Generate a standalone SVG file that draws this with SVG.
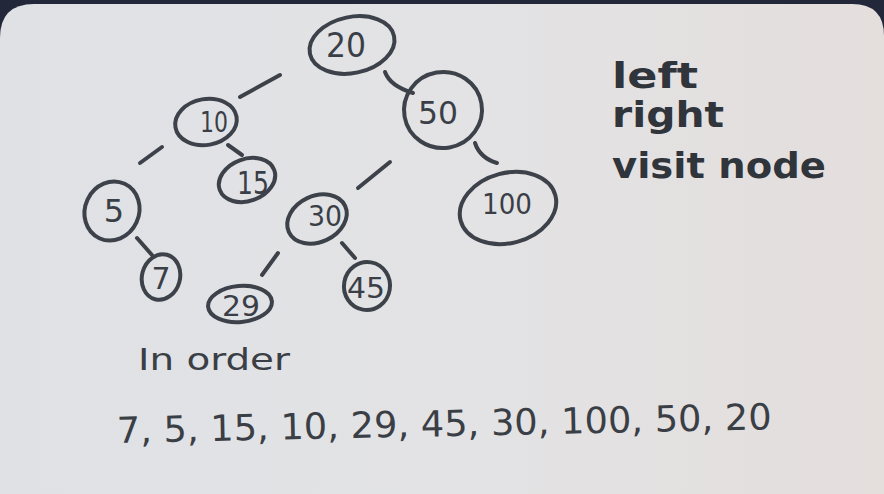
<svg xmlns="http://www.w3.org/2000/svg" width="884" height="494" viewBox="0 0 884 494">
  <defs>
    <linearGradient id="board" x1="0" y1="0" x2="1" y2="0">
      <stop offset="0" stop-color="#dfe1e5"/>
      <stop offset="0.5" stop-color="#e3e3e5"/>
      <stop offset="1" stop-color="#e4dedd"/>
    </linearGradient>
    <style>
      .ring { fill: none; stroke: #3d424a; stroke-width: 4; stroke-linecap: round; }
      .edge { fill: none; stroke: #3d424a; stroke-width: 4; stroke-linecap: round; }
      .lbl { font-family: "DejaVu Sans", "Liberation Sans", sans-serif; fill: #3a3f47; text-anchor: middle; }
      .note { font-family: "DejaVu Sans", "Liberation Sans", sans-serif; fill: #30343b; font-weight: bold; }
      .thin { font-family: "DejaVu Sans", "Liberation Sans", sans-serif; fill: #3a3e45; font-weight: normal; }
    </style>
  </defs>

  <rect x="0" y="0" width="884" height="494" fill="#22283a"/>
  <path d="M0,38 Q0,4 34,4 L852,4 Q884,4 884,36 L884,494 L0,494 Z" fill="url(#board)"/>

  <g id="connectors">
    <path class="edge" d="M240,97 L280,75"/>
    <path class="edge" d="M385,72 Q390,86 413,93"/>
    <path class="edge" d="M140,163 L162,147"/>
    <path class="edge" d="M228,145 L242,155"/>
    <path class="edge" d="M137,238 L152,255"/>
    <path class="edge" d="M358,188 L390,162"/>
    <path class="edge" d="M475,143 Q480,158 497,163"/>
    <path class="edge" d="M262,275 L278,253"/>
    <path class="edge" d="M342,243 L355,258"/>
  </g>

  <g id="node-20">
    <ellipse class="ring" cx="352" cy="45" rx="43" ry="28" transform="rotate(-12 352 45)"/>
    <text class="lbl" x="346" y="57" font-size="34" textLength="40" lengthAdjust="spacingAndGlyphs">20</text>
  </g>
  <g id="node-50">
    <ellipse class="ring" cx="443" cy="110" rx="39" ry="38" transform="rotate(-10 443 110)"/>
    <text class="lbl" x="438" y="124" font-size="32" textLength="40" lengthAdjust="spacingAndGlyphs">50</text>
  </g>
  <g id="node-10">
    <ellipse class="ring" cx="206" cy="122" rx="31" ry="23" transform="rotate(-10 206 122)"/>
    <text class="lbl" x="214" y="132" font-size="28" textLength="28" lengthAdjust="spacingAndGlyphs">10</text>
  </g>
  <g id="node-15">
    <ellipse class="ring" cx="247" cy="180" rx="29" ry="21" transform="rotate(-20 247 180)"/>
    <text class="lbl" x="253" y="194" font-size="32" textLength="32" lengthAdjust="spacingAndGlyphs">15</text>
  </g>
  <g id="node-5">
    <ellipse class="ring" cx="112" cy="211" rx="27" ry="30" transform="rotate(25 112 211)"/>
    <text class="lbl" x="114" y="222" font-size="32">5</text>
  </g>
  <g id="node-7">
    <ellipse class="ring" cx="161" cy="277" rx="19" ry="23" transform="rotate(15 161 277)"/>
    <text class="lbl" x="161" y="289" font-size="30">7</text>
  </g>
  <g id="node-30">
    <ellipse class="ring" cx="317" cy="219" rx="31" ry="23" transform="rotate(-25 317 219)"/>
    <text class="lbl" x="325" y="226" font-size="28" textLength="34" lengthAdjust="spacingAndGlyphs">30</text>
  </g>
  <g id="node-100">
    <ellipse class="ring" cx="508" cy="208" rx="49" ry="35" transform="rotate(-15 508 208)"/>
    <text class="lbl" x="507" y="214" font-size="28" textLength="50" lengthAdjust="spacingAndGlyphs">100</text>
  </g>
  <g id="node-29">
    <ellipse class="ring" cx="240" cy="304" rx="32" ry="18" transform="rotate(-5 240 304)"/>
    <text class="lbl" x="241" y="316" font-size="28" textLength="38" lengthAdjust="spacingAndGlyphs">29</text>
  </g>
  <g id="node-45">
    <ellipse class="ring" cx="367" cy="286" rx="23" ry="24" transform="rotate(10 367 286)"/>
    <text class="lbl" x="366" y="298" font-size="28" textLength="38" lengthAdjust="spacingAndGlyphs">45</text>
  </g>

  <text class="note" x="612" y="88" font-size="36" textLength="86" lengthAdjust="spacingAndGlyphs">left</text>
  <text class="note" x="612" y="127" font-size="36" textLength="112" lengthAdjust="spacingAndGlyphs">right</text>
  <text class="note" x="612" y="178" font-size="36" textLength="214" lengthAdjust="spacingAndGlyphs">visit node</text>

  <text class="thin" x="138" y="370" font-size="30" textLength="152" lengthAdjust="spacingAndGlyphs">In order</text>
  <text class="thin" x="117" y="443" font-size="36" textLength="655" lengthAdjust="spacingAndGlyphs" transform="rotate(-1.2 117 443)">7, 5, 15, 10, 29, 45, 30, 100, 50, 20</text>
</svg>
